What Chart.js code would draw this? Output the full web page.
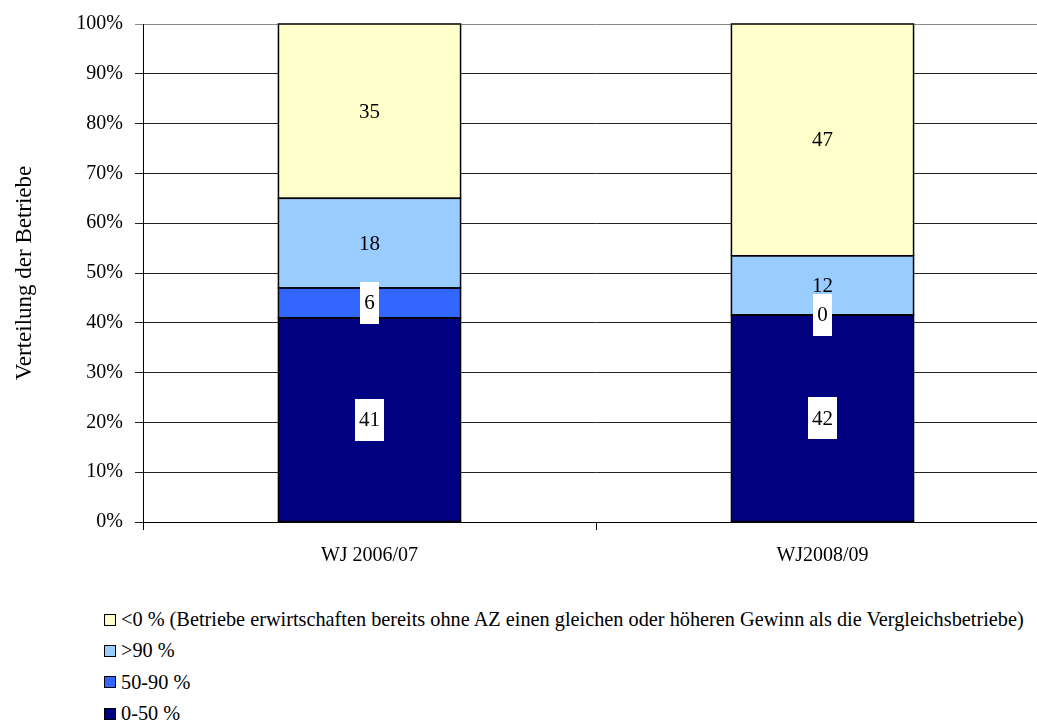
<!DOCTYPE html>
<html>
<head>
<meta charset="utf-8">
<script src="https://cdn.jsdelivr.net/npm/chart.js@4/dist/chart.umd.min.js"></script>
<style>
  html, body { margin: 0; padding: 0; background: #fff; overflow: hidden; width: 1037px; height: 720px; }
  #wrap { position: absolute; left: 0; top: 0; width: 1049px; height: 600px; }
  #legend { position: absolute; left: 104px; top: 604px; font-family: "Liberation Serif", "Times New Roman", serif; font-size: 20.3px; color: #000; }
  #legend .item { height: 31.3px; display: flex; align-items: center; white-space: nowrap; }
  #legend .sw { width: 10px; height: 10px; border: 1.5px solid #000; margin-right: 5px; flex: none; }
</style>
</head>
<body>
<div id="wrap"><canvas id="c" width="1049" height="600"></canvas></div>
<div id="legend"></div>
<script>
// Wirtschaftsjahre
const categories = ['WJ 2006/07', 'WJ2008/09'];
// Anteil der Betriebe je Klasse (Prozent, gerundet)
const share0to50 = [41, 42];
const share50to90 = [6, 0];
const shareAbove90 = [18, 12];
const shareBelow0 = [35, 47];
// Klassenbezeichnungen
const seriesNames = [
  '0-50 %',
  '50-90 %',
  '>90 %',
  '<0 % (Betriebe erwirtschaften bereits ohne AZ einen gleichen oder höheren Gewinn als die Vergleichsbetriebe)'
];
const yTicks = [0, 10, 20, 30, 40, 50, 60, 70, 80, 90, 100];

const FONT = '"Liberation Serif", "Times New Roman", serif';
const seriesValues = [share0to50, share50to90, shareAbove90, shareBelow0];
const colors = ['#000080', '#3366FF', '#99CCFF', '#FFFFCC'];
const boxed = [true, true, false, false];

// totals per year, so each column fills 100 %
const totals = categories.map((_, i) => seriesValues.reduce((s, arr) => s + arr[i], 0));

const datasets = seriesValues.map((vals, k) => ({
  label: seriesNames[k],
  raw: vals,
  data: vals.map((v, i) => v / totals[i] * 100),
  backgroundColor: colors[k],
  borderWidth: 0,
  labelBox: boxed[k],
  barPercentage: 0.402,
  categoryPercentage: 1.0
}));

// black outlines around each segment, then value labels in the middle
const segmentLabels = {
  id: 'segmentLabels',
  afterDatasetsDraw(chart) {
    const ctx = chart.ctx;
    ctx.save();
    ctx.strokeStyle = '#000';
    ctx.lineWidth = 1.5;
    chart.data.datasets.forEach((ds, di) => {
      chart.getDatasetMeta(di).data.forEach(el => {
        const top = Math.min(el.y, el.base);
        const h = Math.abs(el.base - el.y);
        ctx.strokeRect(el.x - el.width / 2, top, el.width, h);
      });
    });
    ctx.font = '21px ' + FONT;
    ctx.textAlign = 'center';
    ctx.textBaseline = 'middle';
    chart.data.datasets.forEach((ds, di) => {
      const meta = chart.getDatasetMeta(di);
      meta.data.forEach((el, i) => {
        const txt = String(ds.raw[i]);
        const cy = (el.y + el.base) / 2;
        if (ds.labelBox) {
          const w = ctx.measureText(txt).width + 8;
          ctx.fillStyle = '#fff';
          ctx.fillRect(Math.round(el.x - w / 2), Math.round(cy - 21), Math.round(w), 42);
        }
        ctx.fillStyle = '#000';
        ctx.fillText(txt, el.x, cy + 1);
      });
    });
    ctx.restore();
  }
};

const chart = new Chart(document.getElementById('c'), {
  type: 'bar',
  data: { labels: categories, datasets },
  options: {
    responsive: false,
    devicePixelRatio: 1,
    animation: false,
    layout: { padding: { left: 0, right: 0, top: 21, bottom: 18 } },
    plugins: { legend: { display: false }, tooltip: { enabled: false } },
    scales: {
      x: {
        stacked: true,
        offset: true,
        grid: { offset: true, drawOnChartArea: false, tickLength: 8, color: '#000', lineWidth: 1 },
        border: { color: '#000', width: 1 },
        ticks: { color: '#000', font: { family: FONT, size: 20 }, padding: 14, maxRotation: 0 },
        afterFit(s) { s.height = 60; }
      },
      y: {
        stacked: true,
        min: 0,
        max: 100,
        afterBuildTicks(s) { s.ticks = yTicks.map(v => ({ value: v })); },
        grid: {
          tickLength: 8,
          color: ctx => (ctx.tick && ctx.tick.value === 100 ? '#888' : '#222'),
          lineWidth: 1
        },
        border: { color: '#000', width: 1 },
        ticks: { color: '#000', font: { family: FONT, size: 20 }, padding: 12, callback: v => v + '%' },
        title: { display: true, text: 'Verteilung der Betriebe', color: '#000', font: { family: FONT, size: 23 }, padding: 11 },
        afterFit(s) { s.width = 143; }
      }
    }
  },
  plugins: [segmentLabels]
});

// legend, top series first
const legend = document.getElementById('legend');
for (let k = datasets.length - 1; k >= 0; k--) {
  const row = document.createElement('div');
  row.className = 'item';
  const sw = document.createElement('span');
  sw.className = 'sw';
  sw.style.background = colors[k];
  const tx = document.createElement('span');
  tx.textContent = seriesNames[k];
  row.appendChild(sw);
  row.appendChild(tx);
  legend.appendChild(row);
}
</script>
</body>
</html>
